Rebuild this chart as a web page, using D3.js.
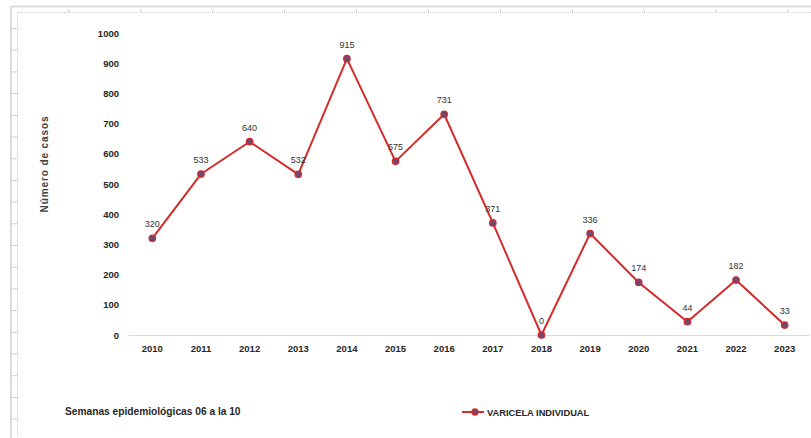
<!DOCTYPE html>
<html>
<head>
<meta charset="utf-8">
<script src="https://cdn.jsdelivr.net/npm/d3@7"></script>
<style>
  html, body { margin: 0; padding: 0; background: #fff; }
  svg { display: block; }
  text { font-family: "Liberation Sans Narrow", "Arial Narrow", "Liberation Sans", sans-serif; }
</style>
</head>
<body>
<svg id="chart" width="811" height="438"></svg>
<script>
const years = ["2010","2011","2012","2013","2014","2015","2016","2017","2018","2019","2020","2021","2022","2023"];
const casos = [320, 533, 640, 532, 915, 575, 731, 371, 0, 336, 174, 44, 182, 33];
const yTicks = [0, 100, 200, 300, 400, 500, 600, 700, 800, 900, 1000];
const seriesName = "VARICELA INDIVIDUAL";
const yTitle = "Número de casos";
const footNote = "Semanas epidemiológicas 06 a la 10";

const svg = d3.select("#chart");
const W = 811, H = 438;

// decorative ruler frame
const frame = svg.append("g");
frame.append("line").attr("x1", 11).attr("x2", W).attr("y1", 6.5).attr("y2", 6.5)
  .attr("stroke", "#dcdcdc").attr("stroke-width", 2);
frame.append("line").attr("x1", 11).attr("x2", 11).attr("y1", 6).attr("y2", H)
  .attr("stroke", "#dcdcdc").attr("stroke-width", 2);
frame.append("line").attr("x1", 18).attr("x2", W).attr("y1", 12.5).attr("y2", 12.5)
  .attr("stroke", "#d0d0d0").attr("stroke-width", 1).attr("stroke-dasharray", "1,1");
frame.append("line").attr("x1", 17.5).attr("x2", 17.5).attr("y1", 12).attr("y2", H)
  .attr("stroke", "#d0d0d0").attr("stroke-width", 1).attr("stroke-dasharray", "1,1");
frame.selectAll("line.tt").data(d3.range(69, W, 71.9)).enter().append("line")
  .attr("x1", d => d).attr("x2", d => d).attr("y1", 9).attr("y2", 13)
  .attr("stroke", "#cfcfcf");
frame.selectAll("line.lt").data(d3.range(28.5, H, 21.7)).enter().append("line")
  .attr("x1", 11).attr("x2", 18).attr("y1", d => d).attr("y2", d => d)
  .attr("stroke", "#cfcfcf");

const x = d3.scaleBand().domain(years).range([128, 809]);
const y = d3.scaleLinear().domain([0, 1000]).range([335, 33]);
const cx = d => x(d) + x.bandwidth() / 2;

// y axis labels
const yAxis = d3.axisLeft(y).tickValues(yTicks).tickFormat(d3.format("d")).tickSize(0).tickPadding(0);
const ya = svg.append("g").attr("transform", "translate(119,0)").call(yAxis);
ya.select(".domain").remove();
ya.selectAll("text").attr("font-size", 9.5).attr("font-weight", "bold").attr("fill", "#262626")
  .attr("font-family", '"Liberation Sans Narrow", sans-serif');

// x axis
const xAxis = d3.axisBottom(x).tickSize(0).tickPadding(10);
const xa = svg.append("g").attr("transform", "translate(0,335)").call(xAxis);
xa.select(".domain").attr("stroke", "#d9d9d9").attr("stroke-width", 1.2);
xa.selectAll("text").attr("font-size", 9.5).attr("font-weight", "bold").attr("fill", "#262626")
  .attr("font-family", '"Liberation Sans Narrow", sans-serif');

// y title
svg.append("text").attr("transform", "translate(48,164) rotate(-90)")
  .attr("text-anchor", "middle").attr("font-size", 10).attr("font-weight", "bold")
  .attr("letter-spacing", 0.9).attr("fill", "#404040")
  .attr("font-family", '"Liberation Sans", sans-serif').text(yTitle);

// line
const data = years.map((yr, i) => ({ yr, v: casos[i] }));
const lineGen = d3.line().x(d => cx(d.yr)).y(d => y(d.v));
svg.append("path").datum(data).attr("d", lineGen)
  .attr("fill", "none").attr("stroke", "#d42a2a").attr("stroke-width", 2)
  .attr("stroke-linejoin", "round");
svg.selectAll("circle.pt").data(data).enter().append("circle")
  .attr("cx", d => cx(d.yr)).attr("cy", d => y(d.v)).attr("r", 3.2)
  .attr("fill", "#6a4a78").attr("stroke", "#d42a2a").attr("stroke-width", 1.3);

// data labels
svg.selectAll("text.lbl").data(data).enter().append("text")
  .attr("x", d => cx(d.yr)).attr("y", d => y(d.v) - 11)
  .attr("text-anchor", "middle").attr("font-size", 9).attr("fill", "#333")
  .attr("font-family", '"Liberation Sans Narrow", sans-serif').text(d => d.v);

// footnote
svg.append("text").attr("x", 65).attr("y", 415).attr("font-size", 10.2).attr("font-weight", "bold")
  .attr("fill", "#262626").text(footNote);

// legend
const lg = svg.append("g").attr("transform", "translate(462,412)");
lg.append("line").attr("x1", 0).attr("x2", 22).attr("y1", 0).attr("y2", 0)
  .attr("stroke", "#d42a2a").attr("stroke-width", 2);
lg.append("circle").attr("cx", 13).attr("cy", 0).attr("r", 3)
  .attr("fill", "#6a4a78").attr("stroke", "#d42a2a").attr("stroke-width", 1.3);
lg.append("text").attr("x", 25).attr("y", 3.5).attr("font-size", 9.3).attr("font-weight", "bold")
  .attr("fill", "#262626").text(seriesName);
</script>
</body>
</html>
